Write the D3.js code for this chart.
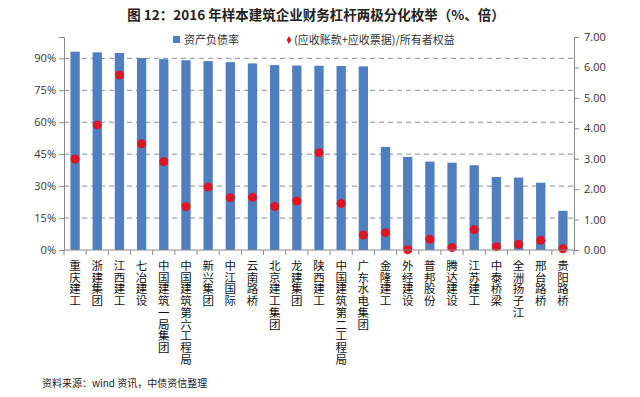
<!DOCTYPE html>
<html>
<head>
<meta charset="utf-8">
<script src="https://cdn.jsdelivr.net/npm/d3@7"></script>
<style>
  body { margin: 0; background: #fff; }
  svg { display: block; font-family: "Noto Sans CJK SC", "Noto Sans", sans-serif; }
</style>
</head>
<body>
<script>
// data
const companies = ["重庆建工", "浙建集团", "江西建工", "七冶建设", "中国建筑一局集团", "中国建筑第六工程局",
  "新兴集团", "中江国际", "云南路桥", "北京建工集团", "龙建集团", "陕西建工", "中国建筑第二工程局",
  "广东水电集团", "金隆建工", "外经建设", "普邦股份", "腾达建设", "江苏建工", "中泰桥梁", "全洲扬子江",
  "邢台路桥", "贵阳路桥"];
const debtRatio = [93.1, 92.8, 92.5, 90.1, 89.6, 89.1, 88.7, 88.2, 87.6, 86.8, 86.6, 86.5, 86.4,
  86.2, 48.4, 43.7, 41.5, 41.0, 39.8, 34.3, 34.0, 31.6, 18.4];
const receivableRatio = [2.99, 4.11, 5.75, 3.49, 2.90, 1.43, 2.07, 1.72, 1.73, 1.43, 1.61, 3.20, 1.53,
  0.49, 0.57, 0.01, 0.35, 0.08, 0.67, 0.11, 0.19, 0.32, 0.04];
const leftTicks = [0, 15, 30, 45, 60, 75, 90];
const rightTicks = [0, 1, 2, 3, 4, 5, 6, 7];
const seriesNames = ["资产负债率", "(应收账款+应收票据)/所有者权益"];

const width = 640, height = 397;
const margin = { top: 37, left: 64, right: 66, bottom: 147 };
const plotW = width - margin.left - margin.right,
  plotH = height - margin.top - margin.bottom;

const svg = d3.select("body").append("svg").attr("width", width).attr("height", height);

svg.append("text")
  .attr("x", 316).attr("y", 20)
  .attr("text-anchor", "middle")
  .style("font-size", "13.5px").style("font-weight", "bold").style("fill", "#222")
  .text("图 12：2016 年样本建筑企业财务杠杆两极分化枚举（%、倍）");

const g = svg.append("g").attr("transform", `translate(${margin.left},${margin.top})`);

const x = d3.scaleBand().domain(companies).range([0, plotW]).paddingInner(0.58).paddingOuter(0.29);
const yL = d3.scaleLinear().domain([0, 100]).range([plotH, 0]);
const yR = d3.scaleLinear().domain([0, 7]).range([plotH, 0]);

// gridlines
g.append("g").selectAll("line")
  .data(leftTicks.filter(d => d > 0))
  .enter().append("line")
  .attr("x1", 0).attr("x2", plotW)
  .attr("y1", d => yL(d)).attr("y2", d => yL(d))
  .style("stroke", "#8c8c8c").style("stroke-dasharray", "5,4").style("stroke-width", 1);

// bars
g.append("g").selectAll("rect")
  .data(debtRatio)
  .enter().append("rect")
  .attr("x", (d, i) => x(companies[i]))
  .attr("y", d => yL(d))
  .attr("width", x.bandwidth())
  .attr("height", d => plotH - yL(d))
  .style("fill", "#4f7fbf");

// markers
g.append("g").selectAll("circle")
  .data(receivableRatio)
  .enter().append("circle")
  .attr("cx", (d, i) => x(companies[i]) + x.bandwidth() / 2)
  .attr("cy", d => yR(d))
  .attr("r", 4.5)
  .style("fill", "#e01522");

// axes
const axisColor = "#8a8a8a";
const leftAxis = g.append("g")
  .call(d3.axisLeft(yL).tickValues(leftTicks).tickFormat(d => d + "%").tickSize(5).tickPadding(3));
const rightAxis = g.append("g").attr("transform", `translate(${plotW},0)`)
  .call(d3.axisRight(yR).tickValues(rightTicks).tickFormat(d3.format(".2f")).tickSize(5).tickPadding(5));
[leftAxis, rightAxis].forEach(a => {
  a.select(".domain").style("stroke", axisColor);
  a.selectAll(".tick line").style("stroke", axisColor);
  a.selectAll("text").style("font-size", "11px").style("fill", "#333")
    .style("font-family", "'Open Sans', 'Noto Sans', sans-serif");
});

// bottom axis, ticks between categories
g.append("line")
  .attr("x1", 0).attr("x2", plotW).attr("y1", plotH).attr("y2", plotH)
  .style("stroke", axisColor);
g.append("g").selectAll("line")
  .data(d3.range(companies.length + 1))
  .enter().append("line")
  .attr("x1", i => i * (plotW / companies.length))
  .attr("x2", i => i * (plotW / companies.length))
  .attr("y1", plotH).attr("y2", plotH + 5)
  .style("stroke", axisColor);

// vertical category labels, one character per line
const labels = g.append("g").selectAll("text")
  .data(companies)
  .enter().append("text")
  .attr("x", d => x(d) + x.bandwidth() / 2)
  .attr("text-anchor", "middle")
  .style("font-size", "11.5px").style("fill", "#111");
labels.selectAll("tspan")
  .data(d => Array.from(d))
  .enter().append("tspan")
  .attr("x", function () { return d3.select(this.parentNode).attr("x"); })
  .attr("y", (c, i) => plotH + 20 + i * 11.7)
  .text(c => c);

// legend
const legend = svg.append("g");
legend.append("rect").attr("x", 173).attr("y", 36).attr("width", 7).attr("height", 7).style("fill", "#4f7fbf");
legend.append("text").attr("x", 184).attr("y", 43.5).style("font-size", "11px").style("fill", "#333").text(seriesNames[0]);
legend.append("path")
  .attr("d", d3.symbol(d3.symbolDiamond, 18)())
  .attr("transform", "translate(289,40)")
  .style("fill", "#e01522");
legend.append("text").attr("x", 294).attr("y", 43.5).style("font-size", "11px").style("fill", "#333").text(seriesNames[1]);

// source note
svg.append("text")
  .attr("x", 42).attr("y", 387)
  .style("font-size", "10px").style("fill", "#222")
  .text("资料来源：wind 资讯，中债资信整理");
</script>
</body>
</html>
